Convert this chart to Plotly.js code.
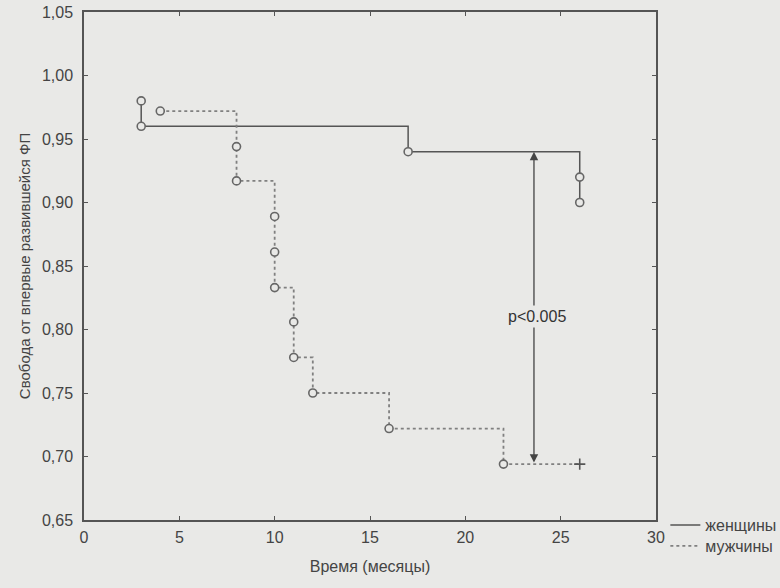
<!DOCTYPE html>
<html>
<head>
<meta charset="utf-8">
<script src="https://cdn.plot.ly/plotly-3.0.1.min.js"></script>
<style>html,body{margin:0;padding:0;background:#e9e9e7;}#chart{width:780px;height:588px;}</style>
</head>
<body>
<div id="chart"></div>
<script>
// Women (solid): event times and survival
const womenTime = [3, 3, 17, 26, 26];
const womenSurv = [0.98, 0.96, 0.94, 0.92, 0.90];
// Men (dotted): event times and survival
const menTime = [4, 8, 8, 10, 10, 10, 11, 11, 12, 16, 22];
const menSurv = [0.972, 0.944, 0.917, 0.889, 0.861, 0.833, 0.806, 0.778, 0.750, 0.722, 0.694];
// Men censored observation
const menCensorTime = [26];
const menCensorSurv = [0.694];
// p-value arrow
const arrowX = 23.6;
const arrowTop = 0.94;
const arrowBottom = 0.694;
const pText = 'p<0.005';
const xTicks = [0, 5, 10, 15, 20, 25, 30];
const yTicks = [0.65, 0.70, 0.75, 0.80, 0.85, 0.90, 0.95, 1.00, 1.05];

const bg = '#e9e9e7';
const dark = '#555555';
const fam = 'Liberation Sans, Arial, sans-serif';
const font = {family: fam, size: 16, color: '#444'};

const traces = [
  {x: womenTime, y: womenSurv, mode: 'lines', line: {shape: 'hv', color: '#555', width: 1.5},
   name: 'женщины', showlegend: true, legend: 'legend'},
  {x: menTime.concat(menCensorTime), y: menSurv.concat(menCensorSurv), mode: 'lines',
   line: {shape: 'hv', color: '#808080', width: 1.8, dash: 'dot'}, name: 'мужчины', showlegend: true, legend: 'legend2'},
  {x: womenTime, y: womenSurv, mode: 'markers', showlegend: false,
   marker: {symbol: 'circle', size: 8, color: bg, line: {color: '#666', width: 1.6}}},
  {x: menTime, y: menSurv, mode: 'markers', showlegend: false,
   marker: {symbol: 'circle', size: 8, color: bg, line: {color: '#666', width: 1.6}}},
  {x: menCensorTime, y: menCensorSurv, mode: 'markers', showlegend: false,
   marker: {symbol: 'cross-thin', size: 8, line: {color: '#555', width: 1.6}}}
];

const legendBase = {xref: 'container', yref: 'container', x: 0.853, xanchor: 'left', yanchor: 'middle',
  bgcolor: 'rgba(0,0,0,0)', font: {family: fam, size: 16, color: '#444'}, itemwidth: 30};

const layout = {
  width: 780, height: 588,
  paper_bgcolor: bg, plot_bgcolor: bg,
  margin: {l: 84, r: 124, t: 12, b: 68, autoexpand: false},
  separators: ',.',
  font: font,
  showlegend: true,
  legend: Object.assign({}, legendBase, {y: 1 - 525 / 588}),
  legend2: Object.assign({}, legendBase, {y: 1 - 546 / 588}),
  xaxis: {range: [0, 30], tickvals: xTicks, ticks: 'inside', ticklen: 4, tickcolor: dark,
          tickfont: {size: 16}, ticklabelstandoff: 2,
          showline: true, linecolor: dark, linewidth: 1.5, mirror: 'ticks', showgrid: false, zeroline: false,
          title: {text: 'Время (месяцы)', font: {family: fam, size: 16, color: '#444'}, standoff: 16}},
  yaxis: {range: [0.65, 1.05], tickvals: yTicks, tickformat: '.2f', ticks: 'inside', ticklen: 4, tickcolor: dark,
          tickfont: {size: 16}, ticklabelstandoff: 6,
          showline: true, linecolor: dark, linewidth: 1.5, mirror: 'ticks', showgrid: false, zeroline: false,
          title: {text: 'Свобода от впервые развившейся ФП', font: {family: fam, size: 15, color: '#444'}, standoff: 8}},
  annotations: [
    {x: arrowX, y: arrowTop, ax: arrowX, ay: arrowBottom, xref: 'x', yref: 'y', axref: 'x', ayref: 'y',
     text: '', showarrow: true, arrowhead: 2, startarrowhead: 2, arrowside: 'end+start',
     arrowsize: 1.3, arrowwidth: 1.3, arrowcolor: '#444'},
    {x: arrowX + 0.15, y: 0.81, xref: 'x', yref: 'y', text: pText, showarrow: false,
     bgcolor: bg, font: {family: fam, size: 16, color: '#333'}, borderpad: 2}
  ]
};

Plotly.newPlot('chart', traces, layout, {displayModeBar: false});
</script>
</body>
</html>
